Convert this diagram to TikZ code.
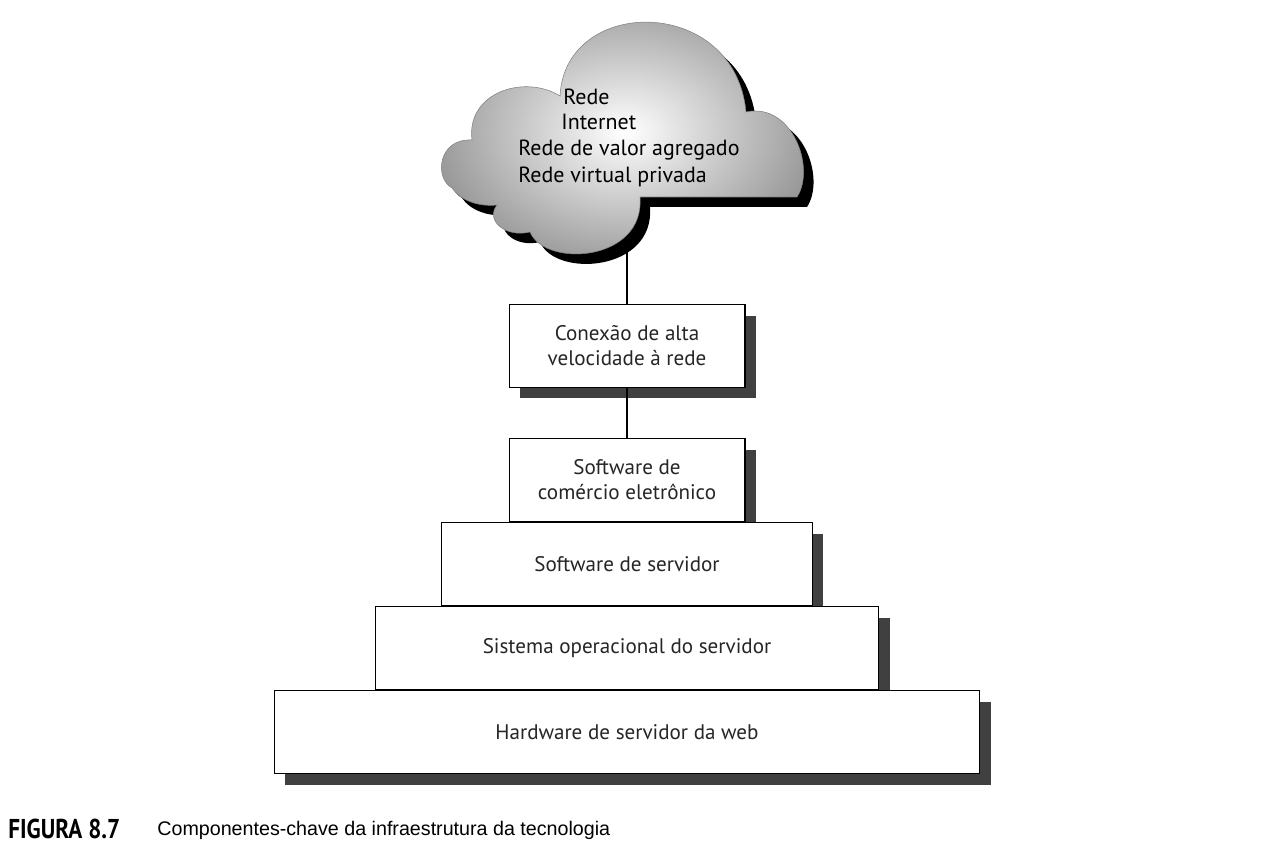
\documentclass[tikz,border=0pt]{standalone}
\usepackage{fontspec}
\setmainfont{PT Sans}
\newfontfamily\legfont{Liberation Sans}
\usetikzlibrary{positioning,shadows}

% contorno da nuvem (coordenadas em pixels)
\newcommand{\nuvem}{(452,188)
  .. controls (434,178) and (438,138) .. (472,140)
  .. controls (466,92) and (525,74) .. (560,96)
  .. controls (565,-5) and (735,-5) .. (746,112)
  .. controls (792,102) and (816,168) .. (797,197)
  -- (640,197)
  .. controls (645,262) and (545,268) .. (530,232)
  .. controls (505,238) and (485,220) .. (497,205)
  .. controls (478,207) and (460,200) .. (452,188) -- cycle}

\tikzset{
  camada/.style={draw, line width=0.6pt, fill=white, minimum height=1.66cm,
    inner sep=2pt, align=center, text=black!85,
    font=\fontsize{12}{14.2}\selectfont,
    drop shadow={shadow xshift=0.22cm, shadow yshift=-0.22cm, fill=black!75, opacity=1}},
  rotulo/.style={anchor=west, inner sep=0pt, font=\fontsize{12.5}{15}\selectfont},
  ligacao/.style={line width=0.6pt}
}

\begin{document}
\begin{tikzpicture}[x=0.02cm,y=-0.02cm]
\useasboundingbox (0,0) rectangle (1263,847);
% nuvem com sombra
\fill[black, shift={(10,10)}] \nuvem;
\shade[inner color=white, outer color=black!40, draw=black!50, line width=0.3pt] \nuvem;
\node[rotulo] (rede) at (563,97) {Rede};
\node[rotulo] (internet) at (561,122) {Internet};
\node[rotulo] (valor) at (518,150) {Rede de valor agregado};
\node[rotulo] (privada) at (518,177) {Rede virtual privada};
\coordinate (nuvembase) at (627,250);
% camadas
\node[camada, minimum width=4.72cm] (conexao) at (627,346) {Conexão de alta\\velocidade à rede};
\node[camada, minimum width=4.72cm, below=1cm of conexao] (comercio) {Software de\\comércio eletrônico};
\node[camada, minimum width=7.42cm, below=0pt of comercio] (servsw) {Software de servidor};
\node[camada, minimum width=10.08cm, below=0pt of servsw] (sistema) {Sistema operacional do servidor};
\node[camada, minimum width=14.12cm, below=0pt of sistema] (hardware) {Hardware de servidor da web};
\draw[ligacao] (nuvembase) -- (conexao.north);
\draw[ligacao] (conexao.south) -- (comercio.north);
% legenda
\node[anchor=west, inner sep=0pt, font=\bfseries\fontsize{15.5}{16}\selectfont] (figura) at (8,829) {\scalebox{0.85}[1]{FIGURA 8.7}};
\node[anchor=west, inner sep=0pt, font=\legfont\fontsize{11.2}{13}\selectfont] (legenda) at (157,830) {Componentes-chave da infraestrutura da tecnologia};
\end{tikzpicture}
\end{document}
